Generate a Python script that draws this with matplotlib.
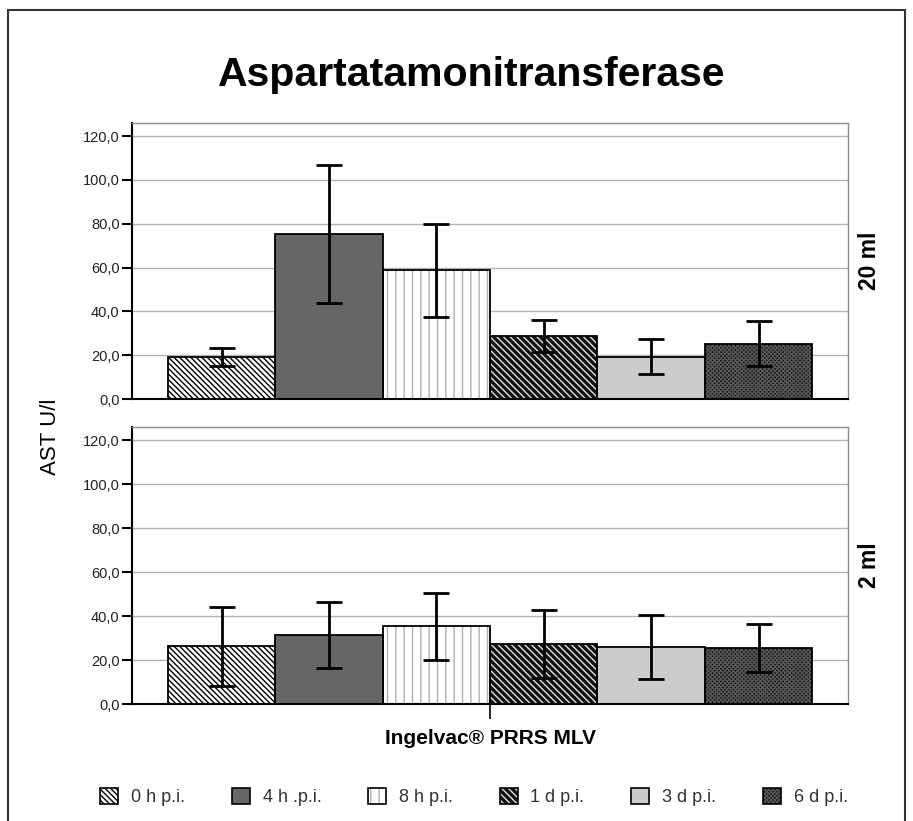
import numpy as np
import matplotlib
matplotlib.use("Agg")
import matplotlib.pyplot as plt
from matplotlib.patches import Patch, Rectangle
from matplotlib.ticker import FuncFormatter

plt.rcParams['font.family'] = ['Liberation Sans', 'DejaVu Sans']
plt.rcParams['hatch.linewidth'] = 1.0

title = "Aspartatamonitransferase"
group_label = "Ingelvac® PRRS MLV"
ylabel = "AST U/l"
timepoints = ["0 h p.i.", "4 h .p.i.", "8 h p.i.", "1 d p.i.", "3 d p.i.", "6 d p.i."]
doses = ["20 ml", "2 ml"]

# mean AST (U/l) and error half-width per time point
ast_20ml = [19.2, 75.3, 58.8, 28.8, 19.4, 25.3]
err_20ml = [4.0, 31.5, 21.3, 7.3, 7.8, 10.1]
ast_2ml = [26.2, 31.3, 35.3, 27.4, 25.9, 25.5]
err_2ml = [17.8, 15.1, 15.3, 15.4, 14.7, 10.9]

yticks = [0, 20, 40, 60, 80, 100, 120]

# fill colour, hatch, hatch colour
styles = [
    ("white", "\\" * 6, "black"),
    ("#666666", "", "#666666"),
    ("white", "||", "#b0b0b0"),
    ("#111111", "\\" * 5, "#e0e0e0"),
    ("#cccccc", "", "#cccccc"),
    ("#151515", "x" * 8, "#555555"),
]

W, H = 913, 821
fig = plt.figure(figsize=(W / 100, H / 100), dpi=100)

ax_top = fig.add_axes([132 / W, 1 - 399 / H, 716 / W, 276 / H])
ax_bot = fig.add_axes([132 / W, 1 - 704 / H, 716 / W, 277 / H])

bw = 0.15
comma = FuncFormatter(lambda v, p: ("%.1f" % v).replace(".", ","))

for ax, vals, errs, dose in [(ax_top, ast_20ml, err_20ml, doses[0]),
                             (ax_bot, ast_2ml, err_2ml, doses[1])]:
    for i, (v, e) in enumerate(zip(vals, errs)):
        x = (i - 2.5) * bw
        face, hatch, hc = styles[i]
        ax.bar(x, v, bw, color=face, hatch=hatch, edgecolor=hc, linewidth=0, zorder=2)
        ax.bar(x, v, bw, fill=False, edgecolor="black", linewidth=1.3, zorder=3)
        ax.errorbar(x, v, yerr=e, fmt="none", ecolor="black", elinewidth=2,
                    capsize=9.5, capthick=2, zorder=4)
    ax.set_xlim(-0.5, 0.5)
    ax.set_ylim(0, 126)
    ax.set_yticks(yticks)
    ax.yaxis.set_major_formatter(comma)
    ax.yaxis.grid(True, color="#b4b4b4", lw=1)
    ax.set_axisbelow(True)
    ax.tick_params(axis="y", length=7, width=1.5, labelsize=10.5, labelcolor="#222222", pad=2)
    for s in ["left", "bottom"]:
        ax.spines[s].set_color("black")
        ax.spines[s].set_linewidth(1.5)
    for s in ["top", "right"]:
        ax.spines[s].set_color("#8c8c8c")
        ax.spines[s].set_linewidth(1)
    ax.text(1.03, 0.5, dose, transform=ax.transAxes, rotation=90,
            ha="center", va="center", fontsize=16.5, fontweight="bold")

ax_top.set_xticks([])
ax_bot.set_xticks([0])
ax_bot.set_xticklabels([group_label], fontsize=15, fontweight="bold")
ax_bot.tick_params(axis="x", length=11, width=1.2, pad=7)

fig.text(472 / W, 1 - 75 / H, title, ha="center", va="center",
         fontsize=29.5, fontweight="bold")
fig.text(50 / W, 1 - 437 / H, ylabel, ha="center", va="center",
         rotation=90, fontsize=16)

# legend handles: hatched fill overlaid with a black outline
handles = []
for face, hatch, hc in styles:
    fill = Patch(facecolor=face, hatch=hatch, edgecolor=hc, linewidth=0)
    outline = Patch(fill=False, edgecolor="black", linewidth=1.2)
    handles.append((fill, outline))
fig.legend(handles, timepoints, loc="center", bbox_to_anchor=(474 / W, 1 - 797 / H),
           ncol=6, frameon=False, fontsize=13, handlelength=1.0, handleheight=1.0,
           columnspacing=2.6, handletextpad=0.7, labelcolor="#333333")

fig.add_artist(Rectangle((8 / W, -0.05), (905 - 8) / W, 1 - 10 / H + 0.05,
                         transform=fig.transFigure, fill=False,
                         edgecolor="#333333", linewidth=1.5))

plt.savefig("out.png", dpi=100)
